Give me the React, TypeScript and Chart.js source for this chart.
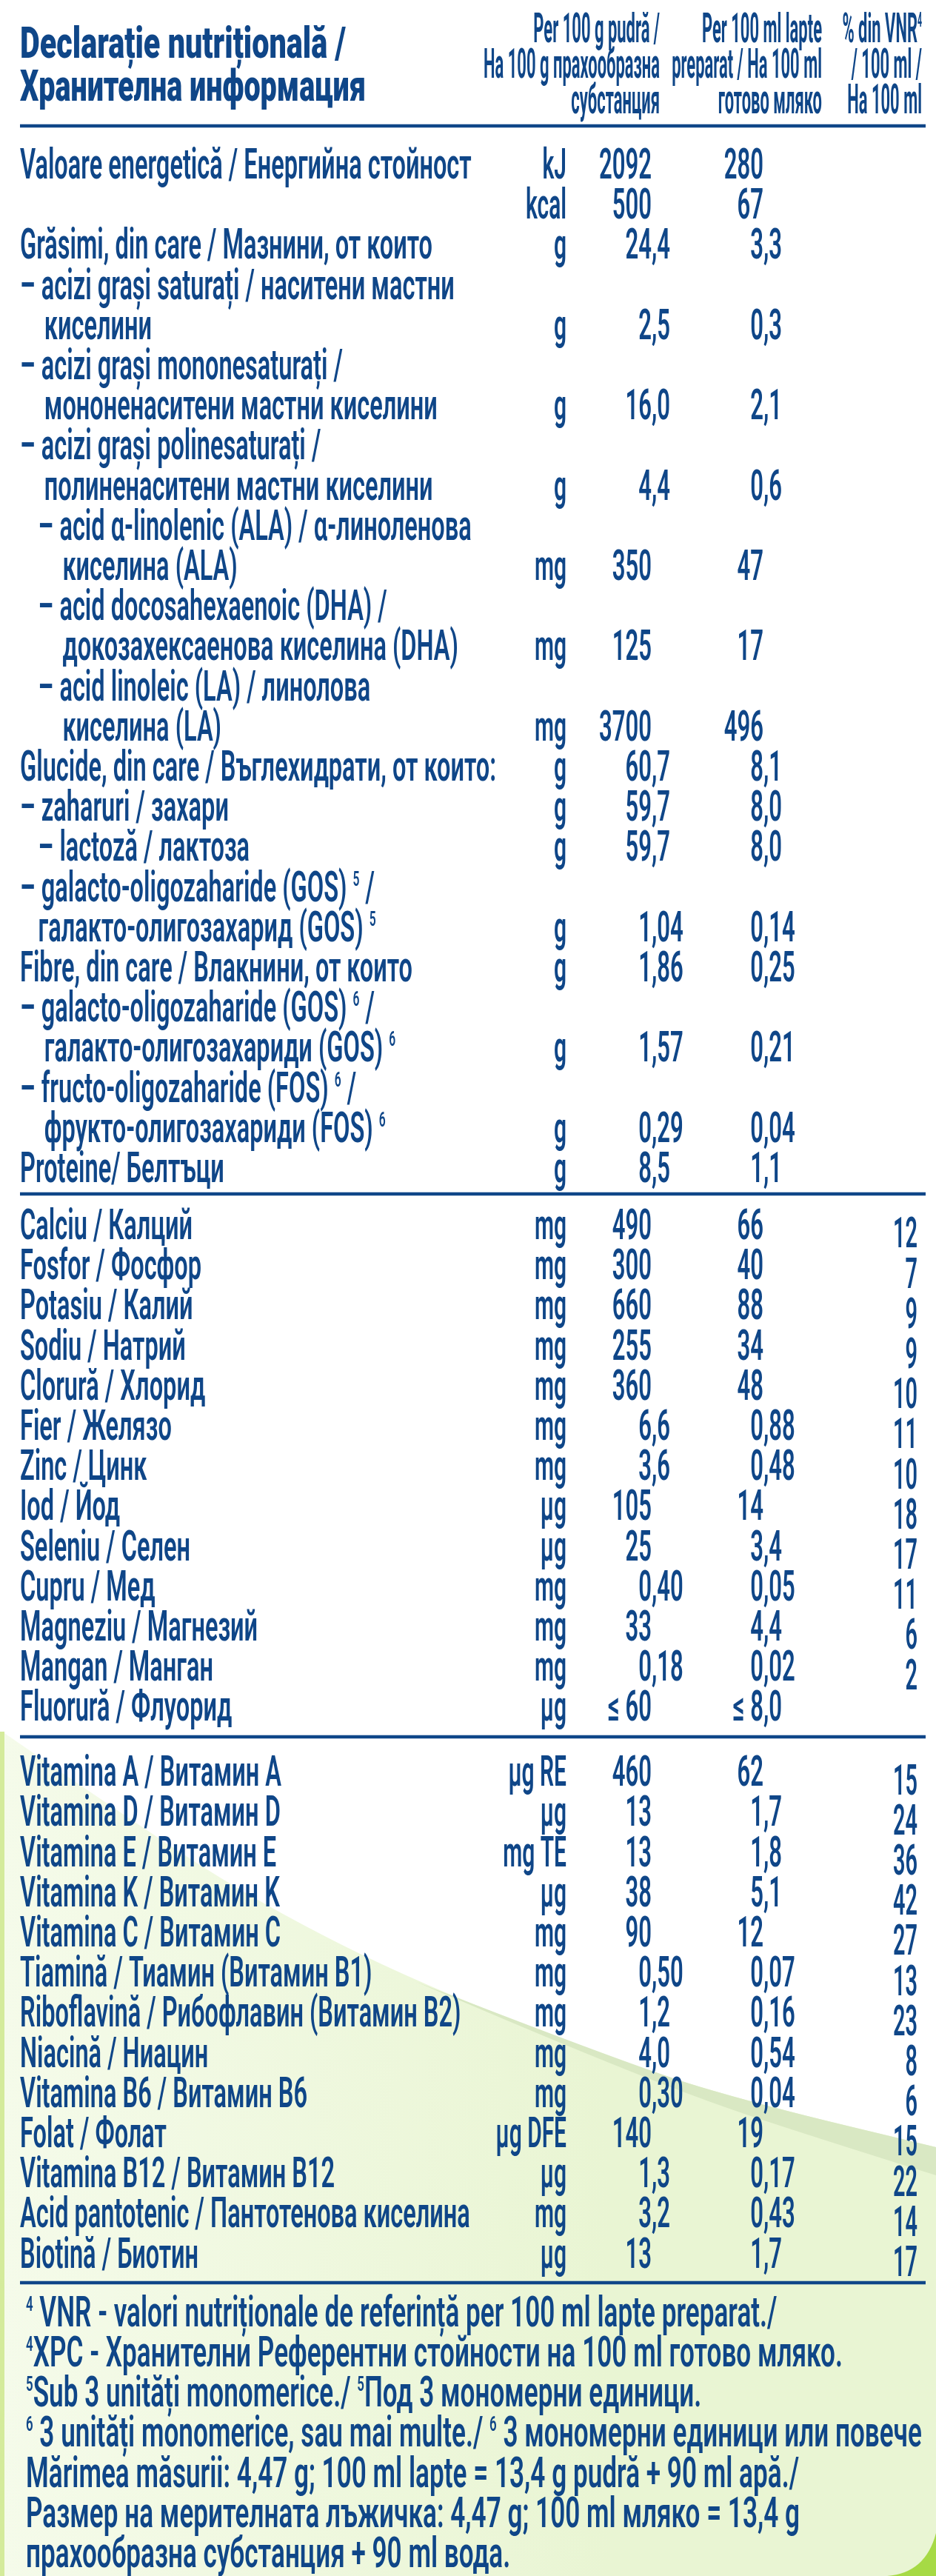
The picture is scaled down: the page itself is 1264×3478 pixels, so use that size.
import { useEffect, useRef } from "react"
import { Chart, registerables } from "chart.js"

Chart.register(...registerables)

// "^5" in a string marks a small raised digit, leading spaces are the row indent
const titleLines = ["Declarație nutrițională /", "Хранителна информация"]
const powderHeader = ["Per 100 g pudră /", "На 100 g прахообразна", "субстанция"]
const milkHeader = ["Per 100 ml lapte", "preparat / На 100 ml", "готово мляко"]
const vnrHeader = ["% din VNR^4", "/ 100 ml /", "На 100 ml"]

const macroLabels = [
  "Valoare energetică / Енергийна стойност",
  "",
  "Grăsimi, din care / Мазнини, от които",
  "– acizi grași saturați / наситени мастни",
  "    киселини",
  "– acizi grași mononesaturați /",
  "    мононенаситени мастни киселини",
  "– acizi grași polinesaturați /",
  "    полиненаситени мастни киселини",
  "   – acid α-linolenic (ALA) / α-линоленова",
  "       киселина (ALA)",
  "   – acid docosahexaenoic (DHA) /",
  "       докозахексаенова киселина (DHA)",
  "   – acid linoleic (LA) / линолова",
  "       киселина (LA)",
  "Glucide, din care / Въглехидрати, от които:",
  "– zaharuri / захари",
  "   – lactoză / лактоза",
  "– galacto-oligozaharide (GOS) ^5 /",
  "   галакто-олигозахарид (GOS) ^5",
  "Fibre, din care / Влакнини, от които",
  "– galacto-oligozaharide (GOS) ^6 /",
  "    галакто-олигозахариди (GOS) ^6",
  "– fructo-oligozaharide (FOS) ^6 /",
  "    фрукто-олигозахариди (FOS) ^6",
  "Proteine/ Белтъци",
]
const macroUnits = ["kJ", "kcal", "g", "", "g", "", "g", "", "g", "", "mg", "", "mg", "", "mg", "g", "g", "g", "", "g", "g", "", "g", "", "g", "g"]
const macroPowder = ["2092", "500", "24,4", "", "2,5", "", "16,0", "", "4,4", "", "350", "", "125", "", "3700", "60,7", "59,7", "59,7", "", "1,04", "1,86", "", "1,57", "", "0,29", "8,5"]
const macroMilk = ["280", "67", "3,3", "", "0,3", "", "2,1", "", "0,6", "", "47", "", "17", "", "496", "8,1", "8,0", "8,0", "", "0,14", "0,25", "", "0,21", "", "0,04", "1,1"]

const mineralLabels = [
  "Calciu / Калций",
  "Fosfor / Фосфор",
  "Potasiu / Калий",
  "Sodiu / Натрий",
  "Clorură / Хлорид",
  "Fier / Желязо",
  "Zinc / Цинк",
  "Iod / Йод",
  "Seleniu / Селен",
  "Cupru / Мед",
  "Magneziu / Магнезий",
  "Mangan / Манган",
  "Fluorură / Флуорид",
]
const mineralUnits = ["mg", "mg", "mg", "mg", "mg", "mg", "mg", "µg", "µg", "mg", "mg", "mg", "µg"]
const mineralPowder = ["490", "300", "660", "255", "360", "6,6", "3,6", "105", "25", "0,40", "33", "0,18", "≤ 60"]
const mineralMilk = ["66", "40", "88", "34", "48", "0,88", "0,48", "14", "3,4", "0,05", "4,4", "0,02", "≤ 8,0"]
const mineralVnr = ["12", "7", "9", "9", "10", "11", "10", "18", "17", "11", "6", "2", ""]

const vitaminLabels = [
  "Vitamina A / Витамин A",
  "Vitamina D / Витамин D",
  "Vitamina E / Витамин E",
  "Vitamina K / Витамин K",
  "Vitamina C / Витамин C",
  "Tiamină / Тиамин (Витамин B1)",
  "Riboflavină / Рибофлавин (Витамин B2)",
  "Niacină / Ниацин",
  "Vitamina B6 / Витамин B6",
  "Folat / Фолат",
  "Vitamina B12 / Витамин B12",
  "Acid pantotenic / Пантотенова киселина",
  "Biotină / Биотин",
]
const vitaminUnits = ["µg RE", "µg", "mg TE", "µg", "mg", "mg", "mg", "mg", "mg", "µg DFE", "µg", "mg", "µg"]
const vitaminPowder = ["460", "13", "13", "38", "90", "0,50", "1,2", "4,0", "0,30", "140", "1,3", "3,2", "13"]
const vitaminMilk = ["62", "1,7", "1,8", "5,1", "12", "0,07", "0,16", "0,54", "0,04", "19", "0,17", "0,43", "1,7"]
const vitaminVnr = ["15", "24", "36", "42", "27", "13", "23", "8", "6", "15", "22", "14", "17"]

const noteLines = [
  "^4 VNR - valori nutriționale de referință per 100 ml lapte preparat./",
  "^4XPC - Хранителни Референтни стойности на 100 ml готово мляко.",
  "^5Sub 3 unități monomerice./ ^5Под 3 мономерни единици.",
  "^6 3 unități monomerice, sau mai multe./ ^6 3 мономерни единици или повече",
  "Mărimea măsurii: 4,47 g; 100 ml lapte = 13,4 g pudră + 90 ml apă./",
  "Размер на мерителната лъжичка: 4,47 g; 100 ml мляко = 13,4 g",
  "прахообразна субстанция + 90 ml вода.",
]

const WIDTH = 1264
const HEIGHT = 3478
const BLUE = "#0f4688"

// y axis counts text lines, line 0 is the first row of the table
const LINE_PX = 54.2
const ZERO_PX = 241
const MINERAL_START = 26.42
const VITAMIN_START = 40.04
const NOTE_START = 53.5
const VNR_DROP = 0.21
const INDENT_PX = 8.2
const toLine = (px: number) => (px - ZERO_PX) / LINE_PX

const seq = (start: number, n: number) => Array.from({ length: n }, (_, i) => start + i)

type TextStyle = { font: string; sx: number; align: "left" | "right" | "comma" }

function fitStyle(font: string, sample: string, px: number, align: TextStyle["align"]): TextStyle {
  const ctx = document.createElement("canvas").getContext("2d")!
  ctx.font = font
  return { font, sx: px / ctx.measureText(sample).width, align }
}

function textSet(xPx: number, lines: number[], texts: string[], style: TextStyle) {
  return {
    data: lines.map((y) => ({ x: xPx, y })),
    texts,
    textStyle: style,
    pointRadius: 0,
    showLine: false,
  }
}

function ruleSet(px: number) {
  return {
    data: [
      { x: 27, y: toLine(px) },
      { x: 1250, y: toLine(px) },
    ],
    pointRadius: 0,
    showLine: true,
    borderColor: BLUE,
    borderWidth: 4.5,
  }
}

function drawRuns(ctx: CanvasRenderingContext2D, text: string, style: TextStyle) {
  const size = parseFloat(style.font.split(" ")[1])
  const small = style.font.replace(/[\d.]+px/, `${size * 0.48}px`)
  const runs = text.split(/(\^\d)/).filter(Boolean)
  const widthOf = (run: string) => {
    ctx.font = run[0] === "^" ? small : style.font
    return ctx.measureText(run[0] === "^" ? run.slice(1) : run).width
  }
  let pen = 0
  if (style.align === "right") pen = -runs.reduce((w, r) => w + widthOf(r), 0)
  if (style.align === "comma") pen = -widthOf(text.split(",")[0])
  for (const run of runs) {
    const w = widthOf(run)
    if (run[0] === "^") ctx.fillText(run.slice(1), pen, -size * 0.37)
    else ctx.fillText(run, pen, 0)
    pen += w
  }
}

// the table text sits on the invisible points of each dataset
const tableText = {
  id: "tableText",
  afterDatasetsDraw(chart: any) {
    const { ctx } = chart
    ctx.save()
    ctx.fillStyle = BLUE
    ctx.textAlign = "left"
    ctx.textBaseline = "alphabetic"
    chart.data.datasets.forEach((ds: any, i: number) => {
      if (!ds.texts) return
      chart.getDatasetMeta(i).data.forEach((pt: any, j: number) => {
        const raw: string = ds.texts[j]
        if (!raw) return
        const text = raw.trimStart()
        ctx.save()
        ctx.translate(pt.x + (raw.length - text.length) * INDENT_PX, pt.y)
        ctx.scale(ds.textStyle.sx, 1)
        drawRuns(ctx, text, ds.textStyle)
        ctx.restore()
      })
    })
    ctx.restore()
  },
}

function smoothPath(ctx: CanvasRenderingContext2D, pts: number[][], start: boolean) {
  if (start) ctx.moveTo(pts[0][0], pts[0][1])
  else ctx.lineTo(pts[0][0], pts[0][1])
  for (let i = 1; i < pts.length - 1; i++) {
    const mx = (pts[i][0] + pts[i + 1][0]) / 2
    const my = (pts[i][1] + pts[i + 1][1]) / 2
    ctx.quadraticCurveTo(pts[i][0], pts[i][1], mx, my)
  }
  const last = pts[pts.length - 1]
  ctx.lineTo(last[0], last[1])
}

// green artwork behind the lower part of the table
const backdrop = {
  id: "backdrop",
  beforeDraw(chart: any) {
    const { ctx } = chart
    ctx.save()
    ctx.fillStyle = "#ffffff"
    ctx.fillRect(0, 0, WIDTH, HEIGHT)

    const upper = [[6, 2340], [193, 2469], [355, 2572], [565, 2678], [860, 2792], [1027, 2842], [1264, 2899]]
    const grad = ctx.createLinearGradient(0, 0, WIDTH, 0)
    grad.addColorStop(0, "#f5fbea")
    grad.addColorStop(0.65, "#e9f5d3")
    grad.addColorStop(1, "#e9f5d3")
    ctx.fillStyle = grad
    ctx.beginPath()
    smoothPath(ctx, upper, true)
    ctx.lineTo(WIDTH, HEIGHT)
    ctx.lineTo(6, HEIGHT)
    ctx.closePath()
    ctx.fill()

    const bandTop = [[560, 2675], [860, 2792], [1027, 2842], [1264, 2899]]
    const bandLow = [[1264, 2937], [1060, 2873], [927, 2827], [760, 2760], [560, 2675]]
    ctx.fillStyle = "#d9e8c3"
    ctx.beginPath()
    smoothPath(ctx, bandTop, true)
    smoothPath(ctx, bandLow, false)
    ctx.closePath()
    ctx.fill()

    ctx.fillStyle = "#d4eb9b"
    ctx.fillRect(0, 2338, 6, HEIGHT - 2338)

    ctx.fillStyle = "#a6da45"
    ctx.beginPath()
    ctx.moveTo(WIDTH, 3420)
    ctx.quadraticCurveTo(1250, 3474, 1198, HEIGHT)
    ctx.lineTo(WIDTH, HEIGHT)
    ctx.closePath()
    ctx.fill()
    ctx.restore()
  },
}

export default function App() {
  const canvasRef = useRef<HTMLCanvasElement>(null)

  useEffect(() => {
    if (!canvasRef.current) return
    const macroLines = seq(0, macroLabels.length)
    const mineralLines = seq(MINERAL_START, mineralLabels.length)
    const vitaminLines = seq(VITAMIN_START, vitaminLabels.length)
    const noteRows = seq(NOTE_START, noteLines.length)
    const headRows = [57, 105, 153].map(toLine)

    const LABEL_X = 27
    const UNIT_X = 765
    const POWDER_X = 880
    const MILK_X = 1031
    const VNR_X = 1239

    const bodyFont = "600 57px Roboto"
    const titleFont = "900 59px Roboto"
    const BODY = fitStyle(bodyFont, "Glucide, din care / Въглехидрати, от които:", 643, "left")
    const NOTE = fitStyle(bodyFont, "Mărimea măsurii: 4,47 g; 100 ml lapte = 13,4 g pudră + 90 ml apă./", 1044, "left")
    const UNIT = fitStyle(bodyFont, "kcal", 55, "right")
    const VALUE = fitStyle(bodyFont, "2092", 71, "comma")
    const VNR = fitStyle(bodyFont, "10", 33, "right")
    const HEAD = fitStyle("700 56px Roboto", "На 100 g прахообразна", 238, "right")

    const chart = new Chart(canvasRef.current, {
      type: "scatter",
      data: {
        datasets: [
          ruleSet(170),
          ruleSet(1612),
          ruleSet(2345),
          ruleSet(3082),
          textSet(LABEL_X, [toLine(78)], [titleLines[0]], fitStyle(titleFont, titleLines[0], 440, "left")),
          textSet(LABEL_X, [toLine(136)], [titleLines[1]], fitStyle(titleFont, titleLines[1], 467, "left")),
          textSet(891, headRows, powderHeader, HEAD),
          textSet(1110, headRows, milkHeader, HEAD),
          textSet(1245, headRows, vnrHeader, HEAD),
          textSet(LABEL_X, macroLines, macroLabels, BODY),
          textSet(UNIT_X, macroLines, macroUnits, UNIT),
          textSet(POWDER_X, macroLines, macroPowder, VALUE),
          textSet(MILK_X, macroLines, macroMilk, VALUE),
          textSet(LABEL_X, mineralLines, mineralLabels, BODY),
          textSet(UNIT_X, mineralLines, mineralUnits, UNIT),
          textSet(POWDER_X, mineralLines, mineralPowder, VALUE),
          textSet(MILK_X, mineralLines, mineralMilk, VALUE),
          textSet(VNR_X, mineralLines.map((l) => l + VNR_DROP), mineralVnr, VNR),
          textSet(LABEL_X, vitaminLines, vitaminLabels, BODY),
          textSet(UNIT_X, vitaminLines, vitaminUnits, UNIT),
          textSet(POWDER_X, vitaminLines, vitaminPowder, VALUE),
          textSet(MILK_X, vitaminLines, vitaminMilk, VALUE),
          textSet(VNR_X, vitaminLines.map((l) => l + VNR_DROP), vitaminVnr, VNR),
          textSet(LABEL_X + 8, noteRows, noteLines, NOTE),
        ] as any,
      },
      options: {
        responsive: false,
        animation: false,
        devicePixelRatio: 1,
        plugins: { legend: { display: false }, tooltip: { enabled: false } },
        layout: { padding: 0 },
        scales: {
          x: { type: "linear", min: 0, max: WIDTH, display: false },
          y: { type: "linear", reverse: true, min: toLine(0), max: toLine(HEIGHT), display: false },
        },
      },
      plugins: [backdrop, tableText],
    })

    return () => chart.destroy()
  }, [])

  return (
    <div style={{ position: "absolute", left: 0, top: 0 }}>
      <canvas ref={canvasRef} width={WIDTH} height={HEIGHT} style={{ display: "block" }} />
    </div>
  )
}
